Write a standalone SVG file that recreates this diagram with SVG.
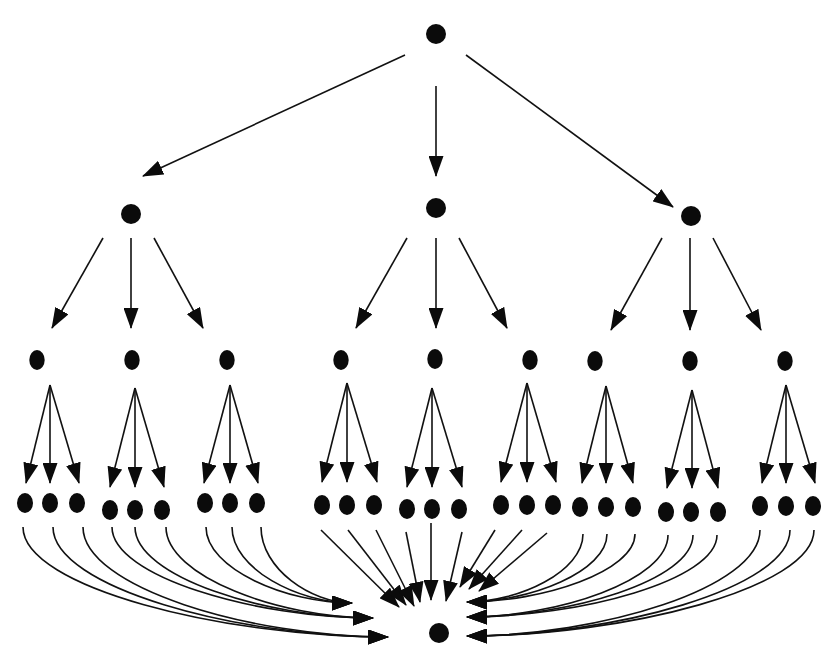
<svg xmlns="http://www.w3.org/2000/svg" width="831" height="649" viewBox="0 0 831 649">
<style>
.n{fill:#0b0b0b}
.e{fill:none;stroke:#111;stroke-width:1.6;marker-end:url(#ah)}
</style>
<defs>
<marker id="ah" markerUnits="userSpaceOnUse" markerWidth="21" markerHeight="15" viewBox="0 0 21 15" refX="20" refY="7.5" orient="auto">
<path d="M0,0 L21,7.5 L0,15 z" fill="#0b0b0b"/>
</marker>
</defs>
<rect width="831" height="649" fill="#fff"/>
<g id="connectors">
<path class="e" d="M405,55 L143,176"/>
<path class="e" d="M436,86 L436,176"/>
<path class="e" d="M466,55 L673,207"/>
<path class="e" d="M103,238 L52,328"/>
<path class="e" d="M131,238 L131,328"/>
<path class="e" d="M154,238 L203,328"/>
<path class="e" d="M407,238 L356,328"/>
<path class="e" d="M436,238 L436,328"/>
<path class="e" d="M459,238 L507,328"/>
<path class="e" d="M662,238 L611,330"/>
<path class="e" d="M690,238 L690,330"/>
<path class="e" d="M713,238 L761,330"/>
<path class="e" d="M50,385 L26,483"/>
<path class="e" d="M50,385 L50,483"/>
<path class="e" d="M50,385 L79,483"/>
<path class="e" d="M135,388 L110,487"/>
<path class="e" d="M135,388 L135,487"/>
<path class="e" d="M135,388 L164,487"/>
<path class="e" d="M230,385 L204,483"/>
<path class="e" d="M230,385 L230,483"/>
<path class="e" d="M230,385 L258,483"/>
<path class="e" d="M347,383 L322,482"/>
<path class="e" d="M347,383 L347,482"/>
<path class="e" d="M347,383 L377,482"/>
<path class="e" d="M432,388 L407,487"/>
<path class="e" d="M432,388 L432,487"/>
<path class="e" d="M432,388 L462,487"/>
<path class="e" d="M527,383 L501,482"/>
<path class="e" d="M527,383 L527,482"/>
<path class="e" d="M527,383 L556,482"/>
<path class="e" d="M606,386 L582,483"/>
<path class="e" d="M606,386 L606,483"/>
<path class="e" d="M606,386 L633,483"/>
<path class="e" d="M692,390 L667,488"/>
<path class="e" d="M692,390 L692,488"/>
<path class="e" d="M692,390 L718,488"/>
<path class="e" d="M786,385 L762,483"/>
<path class="e" d="M786,385 L786,483"/>
<path class="e" d="M786,385 L815,483"/>
<path class="e" d="M23,527 C23,587.5 223.75,637 388,637"/>
<path class="e" d="M53,527 C53,587.5 237.25,637 388,637"/>
<path class="e" d="M83,527 C83,587.5 250.75,637 388,637"/>
<path class="e" d="M112,527 C112,576.5 255.55,618 373,618"/>
<path class="e" d="M135,527 C135,576.5 265.9,618 373,618"/>
<path class="e" d="M166,527 C166,576.5 279.85,618 373,618"/>
<path class="e" d="M206,527 C206,568.8 286.3,603 352,603"/>
<path class="e" d="M232,527 C232,568.8 298,603 352,603"/>
<path class="e" d="M261,527 C261,568.8 311.05,603 352,603"/>
<path class="e" d="M321,530 L399,607"/>
<path class="e" d="M348,530 L406,605"/>
<path class="e" d="M376,530 L414,606"/>
<path class="e" d="M406,532 L420,602"/>
<path class="e" d="M431,523 L431,600"/>
<path class="e" d="M462,532 L446,601"/>
<path class="e" d="M495,530 L460,587"/>
<path class="e" d="M522,530 L469,589"/>
<path class="e" d="M547,533 L479,591"/>
<path class="e" d="M583,534 C583,571.4 519.2,602 467,602"/>
<path class="e" d="M607,534 C607,571.4 530,602 467,602"/>
<path class="e" d="M635,534 C635,571.4 542.6,602 467,602"/>
<path class="e" d="M668,535 C668,580.1 557.45,617 467,617"/>
<path class="e" d="M693,535 C693,580.1 568.7,617 467,617"/>
<path class="e" d="M717,535 C717,580.1 579.5,617 467,617"/>
<path class="e" d="M760,530 C760,588.3 598.85,636 467,636"/>
<path class="e" d="M790,530 C790,588.3 612.35,636 467,636"/>
<path class="e" d="M814,530 C814,588.3 623.15,636 467,636"/>
</g>
<g id="root"><circle class="n" cx="436" cy="34" r="10"/></g>
<g id="a"><circle class="n" cx="131" cy="214" r="10"/></g>
<g id="b"><circle class="n" cx="436" cy="208" r="10"/></g>
<g id="c"><circle class="n" cx="691" cy="216" r="10"/></g>
<g id="a1"><ellipse class="n" cx="37" cy="360" rx="7.7" ry="9.9"/></g>
<g id="a2"><ellipse class="n" cx="132" cy="360" rx="7.7" ry="9.9"/></g>
<g id="a3"><ellipse class="n" cx="227" cy="360" rx="7.7" ry="9.9"/></g>
<g id="b1"><ellipse class="n" cx="341" cy="360" rx="7.7" ry="9.9"/></g>
<g id="b2"><ellipse class="n" cx="435" cy="359" rx="7.7" ry="9.9"/></g>
<g id="b3"><ellipse class="n" cx="530" cy="360" rx="7.7" ry="9.9"/></g>
<g id="c1"><ellipse class="n" cx="595" cy="361" rx="7.7" ry="9.9"/></g>
<g id="c2"><ellipse class="n" cx="690" cy="361" rx="7.7" ry="9.9"/></g>
<g id="c3"><ellipse class="n" cx="785" cy="361" rx="7.7" ry="9.9"/></g>
<g id="a1x"><ellipse class="n" cx="25" cy="503" rx="8" ry="10"/></g>
<g id="a1y"><ellipse class="n" cx="50" cy="503" rx="8" ry="10"/></g>
<g id="a1z"><ellipse class="n" cx="77" cy="503" rx="8" ry="10"/></g>
<g id="a2x"><ellipse class="n" cx="110" cy="510" rx="8" ry="10"/></g>
<g id="a2y"><ellipse class="n" cx="135" cy="510" rx="8" ry="10"/></g>
<g id="a2z"><ellipse class="n" cx="162" cy="510" rx="8" ry="10"/></g>
<g id="a3x"><ellipse class="n" cx="205" cy="503" rx="8" ry="10"/></g>
<g id="a3y"><ellipse class="n" cx="230" cy="503" rx="8" ry="10"/></g>
<g id="a3z"><ellipse class="n" cx="257" cy="503" rx="8" ry="10"/></g>
<g id="b1x"><ellipse class="n" cx="322" cy="505" rx="8" ry="10"/></g>
<g id="b1y"><ellipse class="n" cx="347" cy="505" rx="8" ry="10"/></g>
<g id="b1z"><ellipse class="n" cx="374" cy="505" rx="8" ry="10"/></g>
<g id="b2x"><ellipse class="n" cx="407" cy="509" rx="8" ry="10"/></g>
<g id="b2y"><ellipse class="n" cx="432" cy="509" rx="8" ry="10"/></g>
<g id="b2z"><ellipse class="n" cx="459" cy="509" rx="8" ry="10"/></g>
<g id="b3x"><ellipse class="n" cx="501" cy="505" rx="8" ry="10"/></g>
<g id="b3y"><ellipse class="n" cx="527" cy="505" rx="8" ry="10"/></g>
<g id="b3z"><ellipse class="n" cx="553" cy="505" rx="8" ry="10"/></g>
<g id="c1x"><ellipse class="n" cx="580" cy="507" rx="8" ry="10"/></g>
<g id="c1y"><ellipse class="n" cx="606" cy="507" rx="8" ry="10"/></g>
<g id="c1z"><ellipse class="n" cx="633" cy="507" rx="8" ry="10"/></g>
<g id="c2x"><ellipse class="n" cx="666" cy="512" rx="8" ry="10"/></g>
<g id="c2y"><ellipse class="n" cx="691" cy="512" rx="8" ry="10"/></g>
<g id="c2z"><ellipse class="n" cx="718" cy="512" rx="8" ry="10"/></g>
<g id="c3x"><ellipse class="n" cx="760" cy="506" rx="8" ry="10"/></g>
<g id="c3y"><ellipse class="n" cx="786" cy="506" rx="8" ry="10"/></g>
<g id="c3z"><ellipse class="n" cx="813" cy="506" rx="8" ry="10"/></g>
<g id="sink"><circle class="n" cx="439" cy="633" r="10"/></g>
</svg>
